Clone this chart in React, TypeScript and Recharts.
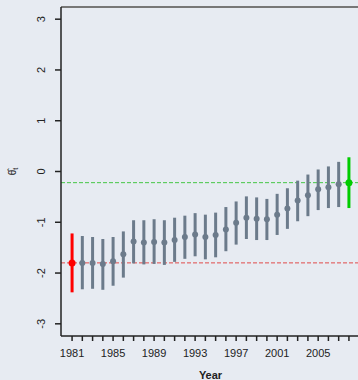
import { ComposedChart, ErrorBar, ReferenceLine, Scatter, XAxis, YAxis } from "recharts";

// yearly estimates with interval bounds
const years = [1981, 1982, 1983, 1984, 1985, 1986, 1987, 1988, 1989, 1990, 1991, 1992, 1993, 1994,
    1995, 1996, 1997, 1998, 1999, 2000, 2001, 2002, 2003, 2004, 2005, 2006, 2007, 2008];
const estimates = [-1.80, -1.80, -1.80, -1.82, -1.77, -1.63, -1.38, -1.40, -1.39, -1.40, -1.35, -1.29, -1.24, -1.29,
    -1.25, -1.14, -1.01, -0.91, -0.93, -0.94, -0.85, -0.73, -0.57, -0.47, -0.35, -0.31, -0.25, -0.22];
const lower = [-2.38, -2.32, -2.31, -2.33, -2.25, -2.09, -1.81, -1.83, -1.82, -1.84, -1.78, -1.72, -1.67, -1.73,
    -1.69, -1.57, -1.44, -1.33, -1.35, -1.35, -1.25, -1.13, -0.98, -0.88, -0.76, -0.72, -0.70, -0.72];
const upper = [-1.22, -1.27, -1.29, -1.33, -1.29, -1.18, -0.96, -0.96, -0.94, -0.96, -0.91, -0.87, -0.82, -0.85,
    -0.81, -0.70, -0.59, -0.49, -0.51, -0.54, -0.44, -0.33, -0.18, -0.06, 0.04, 0.10, 0.19, 0.28];

const xLabelYears = [1981, 1985, 1989, 1993, 1997, 2001, 2005];
const yTicks = [-3, -2, -1, 0, 1, 2, 3];
const baseLevel = -1.80;
const finalLevel = -0.22;

const points = years.map((year, i) => ({
    year,
    est: estimates[i],
    err: [estimates[i] - lower[i], upper[i] - estimates[i]],
}));
const firstPoint = [points[0]];
const midPoints = points.slice(1, -1);
const lastPoint = [points[points.length - 1]];

const font = '"Liberation Sans", Arial, sans-serif';
const bg = '#e7ebf2';

const XTick = ({ x, y, payload }: any) => {
    if (!xLabelYears.includes(payload.value)) return null;
    return (
        <text x={x} y={y + 14} textAnchor="middle" fontSize={11} fill="#222" fontFamily={font}>
            {payload.value}
        </text>
    );
};

const YTick = ({ x, y, payload }: any) => {
    const tx = x - 8;
    return (
        <text x={tx} y={y} transform={`rotate(-90, ${tx}, ${y})`} textAnchor="middle" fontSize={11} fill="#222" fontFamily={font}>
            {payload.value}
        </text>
    );
};

const YLabel = ({ viewBox }: any) => {
    const cx = 16;
    const cy = viewBox.y + viewBox.height / 2;
    return (
        <text x={cx} y={cy} transform={`rotate(-90, ${cx}, ${cy})`} textAnchor="middle" fontSize={10} fill="#222" fontFamily={font}>
            {"\u03B8\u0302"}
            <tspan fontSize={7} dy={2}>t</tspan>
        </text>
    );
};

export default function App() {
    return (
        <div style={{ position: 'absolute', left: 0, top: 0, width: 358, height: 380, overflow: 'hidden', background: bg }}>
            <ComposedChart width={362} height={380} margin={{ top: 7, right: 2, left: 0, bottom: 0 }}>
                <XAxis
                    type="number"
                    dataKey="year"
                    domain={[1979.92, 2009.08]}
                    allowDataOverflow
                    ticks={years}
                    interval={0}
                    height={44}
                    tickSize={5}
                    stroke="#222"
                    strokeWidth={1.5}
                    tick={<XTick />}
                    label={{ value: 'Year', position: 'insideBottom', offset: 1, fontSize: 11, fontWeight: 'bold', fill: '#222', fontFamily: font }}
                />
                <YAxis
                    type="number"
                    dataKey="est"
                    domain={[-3.24, 3.24]}
                    allowDataOverflow
                    ticks={yTicks}
                    width={61}
                    tickSize={6}
                    stroke="#222"
                    strokeWidth={1.5}
                    tick={<YTick />}
                    label={{ content: <YLabel /> }}
                />
                <ReferenceLine y={3.24} stroke="#777" strokeWidth={2} />
                <ReferenceLine y={baseLevel} stroke="#e04a4a" strokeDasharray="4 2" strokeWidth={1} />
                <ReferenceLine y={finalLevel} stroke="#45c745" strokeDasharray="4 2" strokeWidth={1} />
                <Scatter data={midPoints} fill="#6c7b8b" isAnimationActive={false}
                    shape={(p: any) => <circle cx={p.cx} cy={p.cy} r={3} fill="#6c7b8b" />}>
                    <ErrorBar dataKey="err" direction="y" width={0} stroke="#6c7b8b" strokeWidth={3} isAnimationActive={false} />
                </Scatter>
                <Scatter data={firstPoint} fill="#ff0000" isAnimationActive={false}
                    shape={(p: any) => <circle cx={p.cx} cy={p.cy} r={3.5} fill="#ff0000" />}>
                    <ErrorBar dataKey="err" direction="y" width={0} stroke="#ff0000" strokeWidth={3} isAnimationActive={false} />
                </Scatter>
                <Scatter data={lastPoint} fill="#00cc00" isAnimationActive={false}
                    shape={(p: any) => <circle cx={p.cx} cy={p.cy} r={3.5} fill="#00cc00" />}>
                    <ErrorBar dataKey="err" direction="y" width={0} stroke="#00cc00" strokeWidth={3} isAnimationActive={false} />
                </Scatter>
            </ComposedChart>
        </div>
    );
}
